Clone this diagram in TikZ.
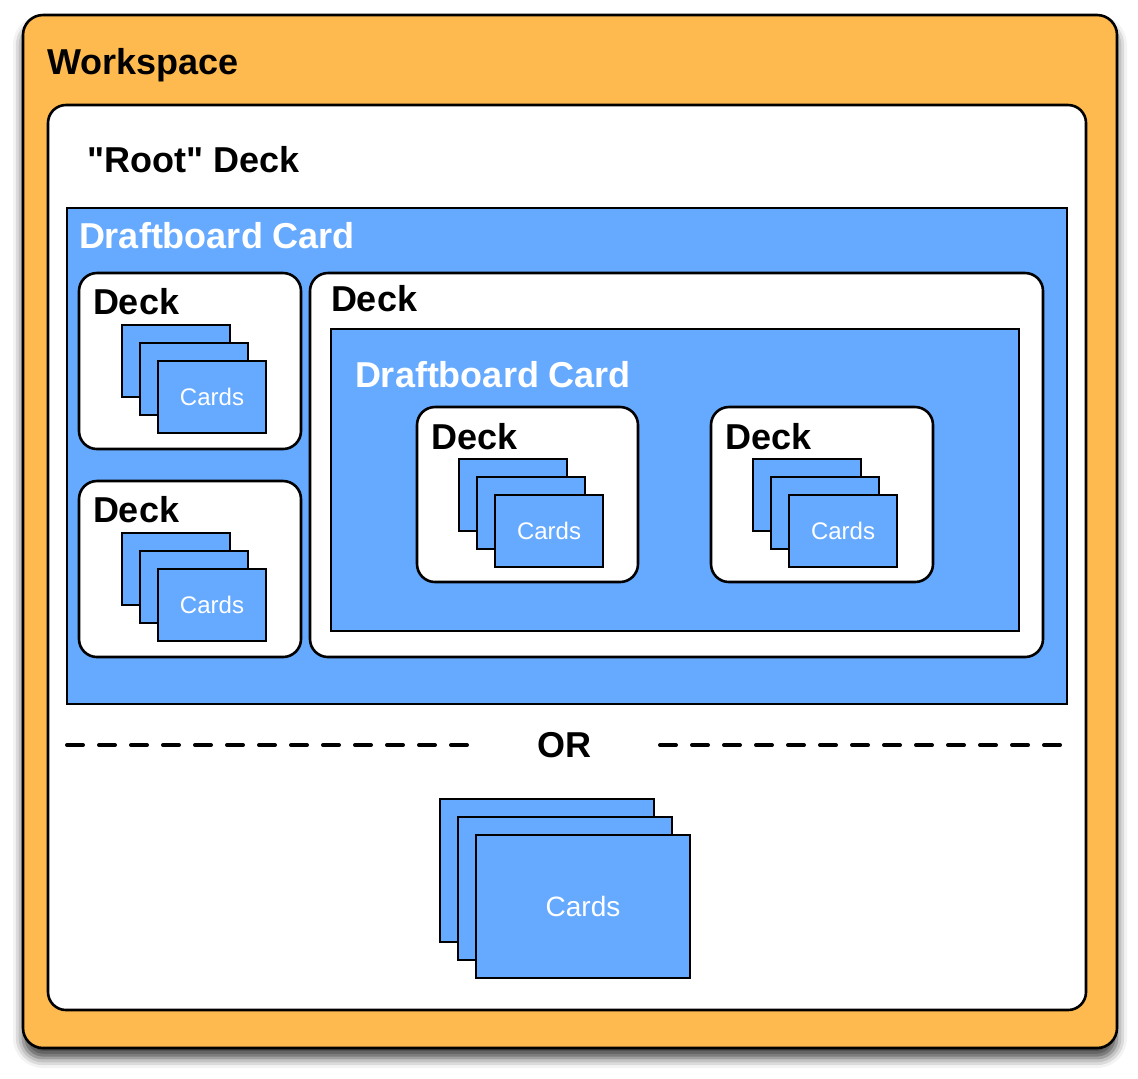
\documentclass[tikz,border=0pt]{standalone}
\usepackage{fontspec}
\setmainfont{Liberation Sans}[Ligatures=TeXOff]
\usetikzlibrary{shadows.blur}

\definecolor{wsorange}{HTML}{FEBA4F}
\definecolor{cardblue}{HTML}{66AAFF}

\begin{document}
\begin{tikzpicture}[
            x = 0.5pt, y = -0.5pt, % one unit is one pixel of the sketch
            every node/.style = {inner sep = 0pt, outer sep = 0pt},
            line width = 1.3pt
        ]

        \tikzstyle{workspace}=[
            draw = black,
            fill = wsorange,
            rounded corners = 10pt,
            anchor = north west,
            blur shadow = {shadow xshift = 0pt, shadow yshift = -5pt,
                           shadow blur radius = 5pt, shadow opacity = 75}
        ]
        \tikzstyle{deckbox}=[
            draw = black,
            fill = white,
            rounded corners = 9pt,
            anchor = north west
        ]
        \tikzstyle{board}=[
            draw = black,
            fill = cardblue,
            anchor = north west
        ]
        \tikzstyle{card}=[
            draw = black,
            line width = 1.2pt,
            fill = cardblue,
            text = white,
            anchor = north west,
            minimum width = 54pt,
            minimum height = 36pt,
            font = \fontsize{12}{14}\selectfont
        ]
        \tikzstyle{bigcard}=[
            card,
            minimum width = 107pt,
            minimum height = 71.5pt,
            font = \fontsize{14}{16}\selectfont
        ]
        \tikzstyle{title}=[
            anchor = base west,
            font = \bfseries\fontsize{18}{21}\selectfont
        ]
        \tikzstyle{orline}=[
            line width = 2pt,
            line cap = round,
            dash pattern = on 8pt off 8pt
        ]

        \useasboundingbox (0,0) rectangle (1138,1078);

        % outer frames
        \node[workspace, minimum width = 547pt, minimum height = 516.5pt] (ws) at (23,15) {};
        \node[title] (wslabel) at (47,74) {Workspace};
        \node[deckbox, minimum width = 519pt, minimum height = 452.5pt] (root) at (48,105) {};
        \node[title] (rootlabel) at (87,172) {"Root" Deck};

        % draftboard card
        \node[board, minimum width = 500pt, minimum height = 248pt] (board) at (67,208) {};
        \node[title, text = white] (boardlabel) at (79,248) {Draftboard Card};

        \node[deckbox, minimum width = 111pt, minimum height = 88pt] (deckA) at (79,273) {};
        \node[title] (deckAlabel) at (93,314) {Deck};
        \node[deckbox, minimum width = 111pt, minimum height = 88pt] (deckB) at (79,481) {};
        \node[title] (deckBlabel) at (93,522) {Deck};
        \node[deckbox, minimum width = 366.5pt, minimum height = 192pt] (deckC) at (310,273) {};
        \node[title] (deckClabel) at (331,311) {Deck};

        % nested draftboard card
        \node[board, minimum width = 344pt, minimum height = 151pt] (inboard) at (331,329) {};
        \node[title, text = white] (inboardlabel) at (355,387) {Draftboard Card};

        \node[deckbox, minimum width = 110.5pt, minimum height = 87.5pt] (deckD) at (417,407) {};
        \node[title] (deckDlabel) at (431,449) {Deck};
        \node[deckbox, minimum width = 111pt, minimum height = 87.5pt] (deckE) at (711,407) {};
        \node[title] (deckElabel) at (725,449) {Deck};

        % card stacks
        \foreach \x/\y [count=\n] in {122/325, 122/533, 459/459, 753/459} {
            \node[card] (stack\n a) at (\x,\y) {};
            \node[card] (stack\n b) at (\x+18,\y+18) {};
            \node[card] (stack\n c) at (\x+36,\y+36) {Cards};
        }

        % OR divider
        \coordinate (orLa) at (67,745);
        \coordinate (orLb) at (467,745);
        \coordinate (orRa) at (660,745);
        \coordinate (orRb) at (1060,745);
        \draw[orline] (orLa) -- (orLb);
        \draw[orline] (orRa) -- (orRb);
        \node[title, anchor = base] (orlabel) at (564,757) {OR};

        % bare cards
        \node[bigcard] (bare a) at (440,799) {};
        \node[bigcard] (bare b) at (458,817) {};
        \node[bigcard] (bare c) at (476,835) {Cards};

  \end{tikzpicture}
\end{document}
